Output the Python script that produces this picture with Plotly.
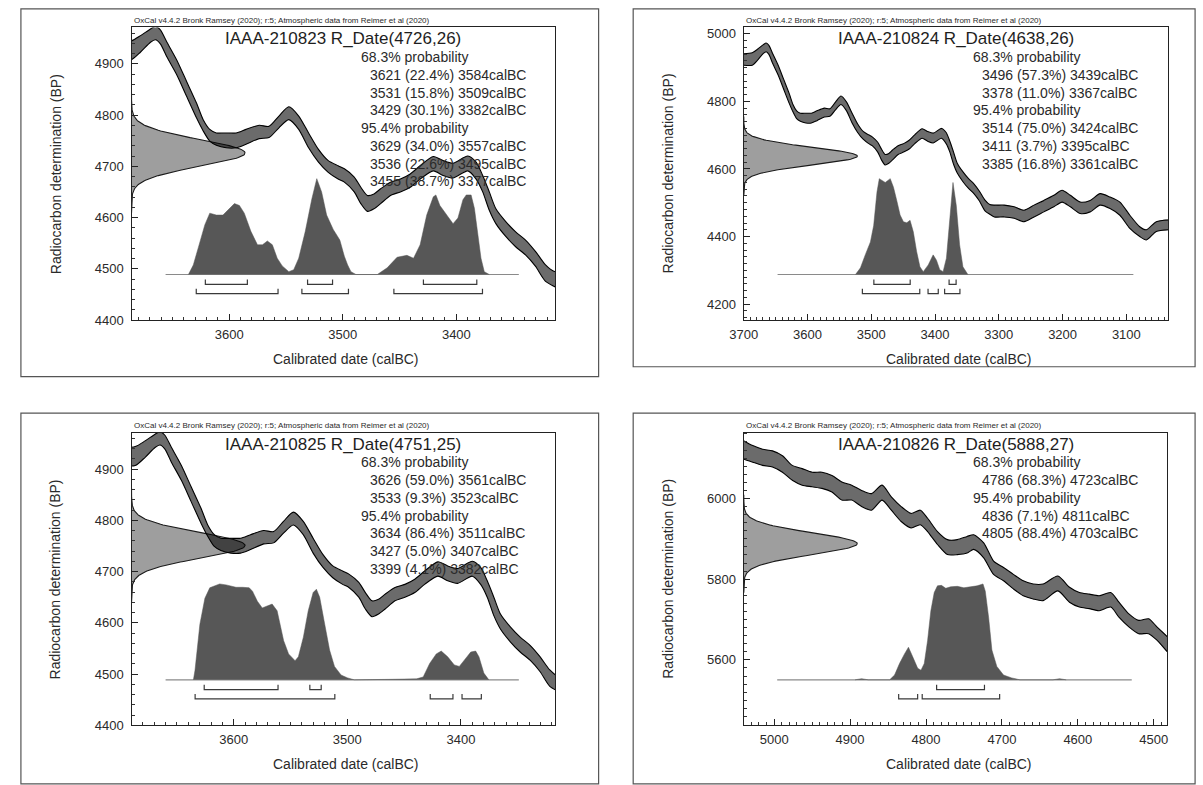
import math
import plotly.graph_objects as go

# ---------------- DATA ----------------
# IntCal20 band (upper / lower edge, BP), 3700-3034 calBC
cal_a_years = [3700.0, 3686.7, 3678.0, 3669.3, 3664.9, 3660.6, 3654.8, 3646.1, 3637.4, 3628.7,
               3622.9, 3617.1, 3611.3, 3602.6, 3593.9, 3585.2, 3573.6, 3564.9, 3556.2, 3547.5,
               3538.8, 3530.1, 3521.4, 3512.8, 3504.1, 3498.6, 3489.9, 3484.1, 3478.3, 3472.5,
               3466.7, 3458.0, 3449.3, 3440.6, 3431.9, 3420.3, 3411.6, 3402.9, 3389.9, 3382.6,
               3376.8, 3371.0, 3365.2, 3356.5, 3347.8, 3339.1, 3330.4, 3321.7, 3314.2, 3307.0,
               3291.5, 3275.9, 3260.4, 3244.8, 3229.3, 3213.7, 3200.8, 3187.8, 3172.3, 3156.7,
               3141.2, 3125.6, 3110.1, 3094.5, 3079.0, 3068.6, 3053.0, 3034.0]
cal_a_upper = [4941, 4944, 4955, 4968, 4973, 4966, 4942, 4907, 4865, 4823,
               4791, 4772, 4765, 4765, 4765, 4772, 4780, 4778, 4798, 4816,
               4798, 4765, 4733, 4711, 4701, 4695, 4679, 4659, 4643, 4646,
               4656, 4669, 4675, 4685, 4701, 4719, 4711, 4706, 4720, 4708,
               4682, 4650, 4617, 4592, 4572, 4556, 4534, 4508, 4495, 4493,
               4493, 4488, 4478, 4493, 4507, 4522, 4537, 4522, 4502, 4507,
               4527, 4517, 4502, 4463, 4429, 4420, 4444, 4449]
cal_a_lower = [4907, 4907, 4923, 4942, 4947, 4939, 4913, 4878, 4836, 4794,
               4769, 4749, 4741, 4736, 4736, 4743, 4754, 4756, 4775, 4791,
               4772, 4736, 4708, 4688, 4675, 4669, 4650, 4627, 4612, 4617,
               4627, 4643, 4650, 4659, 4675, 4691, 4682, 4677, 4691, 4675,
               4650, 4614, 4588, 4563, 4543, 4527, 4505, 4476, 4466, 4458,
               4458, 4454, 4444, 4458, 4473, 4488, 4502, 4488, 4468, 4473,
               4493, 4483, 4463, 4424, 4400, 4390, 4415, 4420]

# IntCal20 band, 5040-4482 calBC
cal_b_years = [5040.4, 5028.2, 5015.2, 5002.2, 4989.1, 4976.1, 4963.1, 4950.0, 4937.0, 4923.9,
               4910.9, 4897.9, 4884.8, 4871.8, 4857.9, 4845.7, 4832.7, 4819.6, 4807.5, 4797.9,
               4784.9, 4771.8, 4758.8, 4745.8, 4737.1, 4724.0, 4711.0, 4697.9, 4684.9, 4671.9,
               4658.8, 4645.8, 4626.3, 4611.0, 4598.0, 4585.0, 4571.9, 4556.7, 4545.9, 4532.8,
               4519.8, 4506.7, 4495.9, 4482.0]
cal_b_upper = [6143, 6131, 6122, 6118, 6106, 6082, 6074, 6065, 6065, 6057,
               6041, 6033, 6020, 6012, 6033, 6004, 5980, 5963, 5971, 5951,
               5918, 5898, 5898, 5906, 5910, 5890, 5845, 5829, 5812, 5796,
               5788, 5788, 5808, 5780, 5767, 5763, 5759, 5767, 5743, 5714,
               5698, 5702, 5682, 5657]
cal_b_lower = [6098, 6090, 6082, 6078, 6065, 6045, 6033, 6029, 6025, 6016,
               5996, 5996, 5980, 5971, 5996, 5971, 5943, 5927, 5935, 5918,
               5886, 5861, 5861, 5865, 5874, 5853, 5812, 5796, 5776, 5759,
               5751, 5747, 5771, 5743, 5731, 5727, 5722, 5731, 5706, 5682,
               5665, 5665, 5649, 5620]

sample_ids = ["IAAA-210823", "IAAA-210824", "IAAA-210825", "IAAA-210826"]
c14_age = [4726, 4638, 4751, 5888]
c14_err = [26, 26, 25, 27]

# calibrated (posterior) probability outlines, relative to the highest point
post1_years = [3635.9, 3631.6, 3627.2, 3621.4, 3617.1, 3611.3, 3605.5, 3601.2, 3595.4, 3591.0,
               3586.7, 3580.9, 3575.1, 3570.7, 3566.4, 3562.0, 3557.7, 3553.3, 3547.5, 3543.2,
               3538.8, 3533.0, 3527.2, 3522.9, 3518.6, 3514.2, 3508.4, 3502.6, 3498.6, 3495.7,
               3492.8, 3488.4, 3469.6, 3460.9, 3452.2, 3443.5, 3437.7, 3431.9, 3426.1, 3420.3,
               3418.0, 3414.5, 3408.7, 3402.9, 3398.6, 3394.2, 3391.3, 3387.0, 3384.1, 3381.2,
               3378.3, 3375.4, 3371.0]
post1_prob = [0.0, 0.10, 0.28, 0.52, 0.64, 0.62, 0.62, 0.67, 0.74, 0.72,
              0.64, 0.45, 0.31, 0.31, 0.35, 0.31, 0.17, 0.09, 0.03, 0.05,
              0.17, 0.45, 0.79, 1.00, 0.86, 0.62, 0.47, 0.36, 0.19, 0.10,
              0.03, 0.0, 0.0, 0.07, 0.18, 0.20, 0.17, 0.31, 0.62, 0.81,
              0.83, 0.72, 0.62, 0.53, 0.59, 0.78, 0.83, 0.83, 0.69, 0.41,
              0.17, 0.03, 0.0]

post2_years = [3524.8, 3517.0, 3509.2, 3501.4, 3496.3, 3491.1, 3487.5, 3483.3, 3478.1, 3470.3,
               3465.2, 3460.0, 3454.8, 3449.6, 3444.4, 3439.2, 3434.1, 3428.9, 3423.7, 3418.5,
               3410.7, 3403.0, 3397.8, 3392.6, 3387.4, 3382.2, 3377.0, 3371.9, 3366.7, 3361.5,
               3356.3, 3348.5]
post2_prob = [0.0, 0.07, 0.21, 0.34, 0.51, 0.86, 1.00, 0.98, 0.96, 1.00,
              0.91, 0.77, 0.62, 0.55, 0.54, 0.565, 0.445, 0.24, 0.08, 0.03,
              0.10, 0.205, 0.15, 0.05, 0.03, 0.17, 0.58, 0.96, 0.72, 0.31,
              0.08, 0.0]

post3_years = [3635.5, 3634.1, 3629.8, 3625.4, 3621.1, 3616.8, 3612.4, 3606.6, 3598.0, 3592.2,
               3586.4, 3583.5, 3579.2, 3574.9, 3570.5, 3566.2, 3561.8, 3559.0, 3556.1, 3551.7,
               3546.0, 3543.1, 3538.7, 3534.4, 3530.1, 3527.2, 3524.3, 3519.9, 3515.6, 3511.3,
               3505.5, 3499.7, 3493.9, 3462.1, 3439.0, 3433.2, 3427.5, 3421.7, 3417.3, 3411.6,
               3405.8, 3401.4, 3397.1, 3391.3, 3387.0, 3384.1, 3379.8, 3375.4]
post3_prob = [0.0, 0.10, 0.58, 0.85, 0.96, 0.98, 1.00, 0.99, 0.965, 0.965,
              0.96, 0.925, 0.82, 0.75, 0.77, 0.79, 0.72, 0.58, 0.41, 0.27,
              0.20, 0.24, 0.445, 0.72, 0.91, 0.945, 0.86, 0.58, 0.31, 0.14,
              0.05, 0.02, 0.0, 0.005, 0.01, 0.03, 0.17, 0.27, 0.30, 0.24,
              0.155, 0.14, 0.205, 0.29, 0.30, 0.24, 0.07, 0.0]

post4_years = [4893.5, 4884.8, 4876.1, 4847.9, 4841.4, 4834.9, 4828.3, 4823.1, 4817.5, 4810.9,
               4806.6, 4802.3, 4797.9, 4793.6, 4789.2, 4784.9, 4779.7, 4774.0, 4767.5, 4758.8,
               4750.1, 4741.4, 4732.7, 4724.9, 4721.9, 4717.5, 4713.2, 4706.7, 4697.9, 4687.1,
               4676.2, 4632.8, 4624.1, 4615.4]
post4_prob = [0.0, 0.012, 0.0, 0.0, 0.05, 0.17, 0.27, 0.34, 0.24, 0.12,
              0.10, 0.17, 0.41, 0.72, 0.91, 0.98, 0.985, 0.955, 0.97, 0.975,
              0.96, 0.97, 0.98, 1.00, 0.925, 0.65, 0.31, 0.14, 0.05, 0.02,
              0.0, 0.0, 0.012, 0.0]

# span of the calibration grid (thin baseline), calBC
grid_span = [(3656, 3345), (3647, 3089), (3660, 3349), (4996, 4529)]

# (from, percent, to) calBC
r68 = [
    [(3621, "22.4", 3584), (3531, "15.8", 3509), (3429, "30.1", 3382)],
    [(3496, "57.3", 3439), (3378, "11.0", 3367)],
    [(3626, "59.0", 3561), (3533, "9.3", 3523)],
    [(4786, "68.3", 4723)],
]
r95 = [
    [(3629, "34.0", 3557), (3536, "22.6", 3495), (3455, "38.7", 3377)],
    [(3514, "75.0", 3424), (3411, "3.7", 3395), (3385, "16.8", 3361)],
    [(3634, "86.4", 3511), (3427, "5.0", 3407), (3399, "4.1", 3382)],
    [(4836, "7.1", 4811), (4805, "88.4", 4703)],
]

posteriors = [(post1_years, post1_prob), (post2_years, post2_prob),
              (post3_years, post3_prob), (post4_years, post4_prob)]
curves = [(cal_a_years, cal_a_upper, cal_a_lower), (cal_a_years, cal_a_upper, cal_a_lower),
          (cal_a_years, cal_a_upper, cal_a_lower), (cal_b_years, cal_b_upper, cal_b_lower)]

x_ranges = [(3686, 3313), (3700, 3034), (3690, 3317), (5040, 4482)]
y_ranges = [(4400, 4971), (4153, 5019), (4400, 4971), (5438, 6163)]
y_dticks = [100, 200, 100, 200]

# ---------------- STYLE / LAYOUT ----------------
W, H = 1203, 785
FONT = "Liberation Sans, Arial, Helvetica, sans-serif"
boxes = [(119, 26.7, 548, 322.7), (739, 26.7, 1169, 322.7),
         (119, 436.7, 548, 732.7), (739, 436.7, 1168, 732.7)]
frames = [(7, 8, 592, 380), (627, 8, 1196, 370), (7, 417, 592, 792), (627, 417, 1196, 792)]

BAND_FILL = "rgba(0,0,0,0.58)"
POST_FILL = "#575757"
GAUSS_FILL = "#9e9e9e"
HEADER = "OxCal v4.4.2 Bronk Ramsey (2020); r:5; Atmospheric data from Reimer et al (2020)"


def px(x):
    return x / W


def py(y):
    return 1 - y / H


fig = go.Figure()
annotations = []
shapes = []
layout_axes = {}

for i in range(4):
    n = "" if i == 0 else str(i + 1)
    xa, ya = "x" + n, "y" + n
    x0, y0, x1, y1 = boxes[i]
    xr, yr = x_ranges[i], y_ranges[i]
    yspan = yr[1] - yr[0]
    xspan = xr[0] - xr[1]
    ppx = (x1 - x0) / xspan          # pixels per year
    ppy = (y1 - y0) / yspan          # pixels per BP

    # --- radiocarbon determination (normal distribution on the BP axis)
    mu, sg = c14_age[i], c14_err[i]
    ext = 115 / ppx
    zs = [k / 20 for k in range(-90, 91)]
    gx = [xr[0] - ext * math.exp(-0.5 * z * z) for z in zs]
    gy = [mu + z * sg for z in zs]
    fig.add_trace(go.Scatter(x=gx, y=gy, mode="lines", fill="toself", fillcolor=GAUSS_FILL,
                             line=dict(color="#1a1a1a", width=1.1),
                             xaxis=xa, yaxis=ya, hoverinfo="skip"))

    # --- calibration curve band
    cy, cu, cl = curves[i]
    fig.add_trace(go.Scatter(x=list(cy) + list(cy)[::-1], y=list(cu) + list(cl)[::-1],
                             mode="lines", fill="toself", fillcolor=BAND_FILL,
                             line=dict(width=0, shape="spline", smoothing=0.7),
                             xaxis=xa, yaxis=ya, hoverinfo="skip"))
    for edge in (cu, cl):
        fig.add_trace(go.Scatter(x=cy, y=edge, mode="lines",
                                 line=dict(color="#000000", width=1.1, shape="spline", smoothing=0.7),
                                 xaxis=xa, yaxis=ya, hoverinfo="skip"))

    # --- calibrated distribution
    base = yr[0] + 46 / ppy
    peak = 97 / ppy
    pyrs, pprob = posteriors[i]
    fig.add_trace(go.Scatter(x=list(grid_span[i]), y=[base, base], mode="lines",
                             line=dict(color="#8a8a8a", width=1.2),
                             xaxis=xa, yaxis=ya, hoverinfo="skip"))
    fig.add_trace(go.Scatter(x=[pyrs[0]] + list(pyrs) + [pyrs[-1]],
                             y=[base] + [base + p * peak for p in pprob] + [base],
                             mode="lines", fill="toself", fillcolor=POST_FILL,
                             line=dict(color=POST_FILL, width=0.5),
                             xaxis=xa, yaxis=ya, hoverinfo="skip"))

    # --- range brackets
    for rngs, off in ((r68[i], 10), (r95[i], 19.3)):
        bx, by = [], []
        lvl = base - off / ppy
        tick = 5 / ppy
        for a, _, b in rngs:
            bx += [a, a, b, b, None]
            by += [lvl + tick, lvl, lvl, lvl + tick, None]
        fig.add_trace(go.Scatter(x=bx, y=by, mode="lines",
                                 line=dict(color="#3a3a3a", width=1.2),
                                 xaxis=xa, yaxis=ya, hoverinfo="skip"))

    # --- axes
    common = dict(showgrid=False, zeroline=False, showline=True, mirror=True,
                  linecolor="#222222", linewidth=1.3, ticks="inside", ticklen=6,
                  tickcolor="#222222", tickwidth=1.2,
                  tickfont=dict(family=FONT, size=13, color="#2a2a2a"))
    layout_axes["xaxis" + n] = dict(common, domain=[px(x0), px(x1)], range=list(xr),
                                    anchor=ya, dtick=100, tick0=0, ticklabelstandoff=2,
                                    minor=dict(dtick=10, tick0=0, ticks="inside", ticklen=3,
                                               tickcolor="#333333", tickwidth=1))
    layout_axes["yaxis" + n] = dict(common, domain=[py(y1), py(y0)], range=list(yr),
                                    anchor=xa, dtick=y_dticks[i], tick0=0, ticklabelstandoff=4,
                                    minor=dict(dtick=20, tick0=0, ticks="inside", ticklen=3,
                                               tickcolor="#333333", tickwidth=1))

    # --- texts
    cx = (x0 + x1) / 2
    annotations.append(dict(x=px(x0), y=py(y0 - 7), xref="paper", yref="paper",
                            text=HEADER, showarrow=False, xanchor="left", yanchor="middle",
                            font=dict(family=FONT, size=8, color="#2a2a2a")))
    annotations.append(dict(x=px(cx), y=py(y0 + 11.5), xref="paper", yref="paper",
                            text=f"{sample_ids[i]} R_Date({c14_age[i]},{c14_err[i]})",
                            showarrow=False, xanchor="center", yanchor="middle",
                            font=dict(family=FONT, size=17, color="#1e1e1e")))
    lines = [("68.3% probability", 230)]
    lines += [(f"{a} ({p}%) {b}calBC", 239) for a, p, b in r68[i]]
    lines += [("95.4% probability", 230)]
    lines += [(f"{a} ({p}%) {b}calBC", 239) for a, p, b in r95[i]]
    for k, (t, dx) in enumerate(lines):
        annotations.append(dict(x=px(x0 + dx), y=py(y0 + 30 + k * 17.95), xref="paper",
                                yref="paper", text=t, showarrow=False, xanchor="left",
                                yanchor="middle",
                                font=dict(family=FONT, size=14, color="#2a2a2a")))
    annotations.append(dict(x=px(cx + 3), y=py(y1 + 39), xref="paper", yref="paper",
                            text="Calibrated date (calBC)", showarrow=False,
                            xanchor="center", yanchor="middle",
                            font=dict(family=FONT, size=14, color="#2a2a2a")))
    annotations.append(dict(x=px(x0 - 77), y=py((y0 + y1) / 2), xref="paper", yref="paper",
                            text="Radiocarbon determination (BP)", showarrow=False, textangle=-90,
                            xanchor="center", yanchor="middle",
                            font=dict(family=FONT, size=14, color="#2a2a2a")))

    fx0, fy0, fx1, fy1 = frames[i]
    shapes.append(dict(type="rect", xref="paper", yref="paper", x0=px(fx0), x1=px(fx1),
                       y0=py(fy1), y1=py(fy0), line=dict(color="#555555", width=1.2),
                       fillcolor="rgba(0,0,0,0)", layer="below"))

fig.update_layout(width=W, height=H, margin=dict(l=0, r=0, t=0, b=0),
                  paper_bgcolor="white", plot_bgcolor="white", showlegend=False,
                  annotations=annotations, shapes=shapes, **layout_axes)

fig.write_html("out.html", config={"displayModeBar": False},
               post_script="document.body.style.margin='0';document.body.style.overflow='hidden';")
